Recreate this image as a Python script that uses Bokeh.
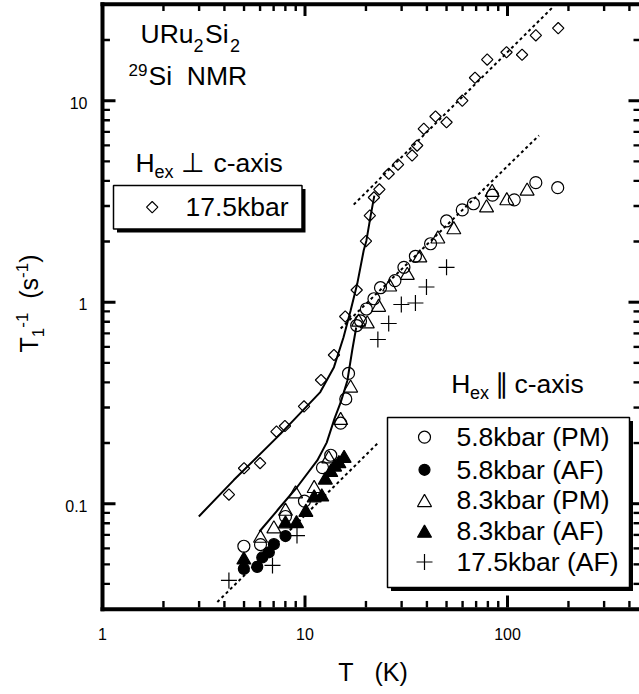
import numpy as np
from bokeh.plotting import figure
from bokeh.models import Range1d
from bokeh.core.properties import value
from bokeh.embed import file_html
from bokeh.resources import INLINE

# ---------------- data ----------------
# H_ex perpendicular c-axis, 17.5 kbar (open diamonds)
perp175_T = [4.21, 5.00, 6.00, 7.23, 7.96, 9.89, 12.0, 13.9, 15.8, 18.0, 20.0, 20.9, 21.9, 23.3,
             25.9, 28.8, 33.8, 35.8, 38.6, 44.1, 50.0, 59.8, 69.1, 79.4, 98.9, 118, 138, 178]
perp175_R = [0.111, 0.150, 0.159, 0.228, 0.243, 0.304, 0.411, 0.547, 0.849, 1.15, 2.01, 2.69, 3.31, 3.63,
             4.34, 4.82, 5.35, 5.99, 7.25, 8.35, 7.82, 10.0, 13.0, 16.0, 17.4, 16.9, 21.1, 22.9]
# H_ex parallel c-axis
pm58_T = [4.99, 6.03, 8.01, 9.94, 12.2, 13.4, 15.0, 15.9, 16.4, 18.0, 18.8, 20.1, 21.9, 23.6,
          27.8, 30.8, 35.1, 41.7, 50.0, 59.8, 67.9, 84.3, 108, 138, 177]
pm58_R = [0.0615, 0.0627, 0.0864, 0.103, 0.151, 0.174, 0.251, 0.331, 0.443, 0.766, 0.807, 0.925, 1.04, 1.18,
          1.28, 1.49, 1.69, 1.95, 2.53, 2.87, 3.08, 3.40, 3.22, 3.92, 3.70]
af58_T = [4.99, 5.81, 6.15, 6.63, 7.02, 8.01]
af58_R = [0.0475, 0.0486, 0.0541, 0.0574, 0.0630, 0.0691]
pm83_T = [6.03, 7.02, 8.01, 8.98, 11.1, 13.1, 15.0, 16.8, 18.4, 20.3, 23.1, 26.2, 32.0, 36.9,
          45.3, 54.3, 78.8, 84.0, 99.2, 125]
pm83_R = [0.0674, 0.0750, 0.0918, 0.112, 0.119, 0.167, 0.259, 0.375, 0.796, 0.781, 0.944, 1.19, 1.36, 1.66,
          2.06, 2.29, 2.94, 3.51, 3.19, 3.56]
af83_T = [4.99, 8.01, 9.08, 10.1, 11.1, 12.1, 12.6, 13.4, 14.0, 14.7, 15.6]
af83_R = [0.0526, 0.0795, 0.0797, 0.0907, 0.107, 0.108, 0.131, 0.143, 0.152, 0.158, 0.168]
af175_T = [4.21, 6.91, 9.13, 22.9, 25.9, 29.9, 35.1, 39.8, 50.0]
af175_R = [0.0416, 0.0494, 0.0695, 0.653, 0.784, 0.974, 0.991, 1.19, 1.49]

# guide curves (solid) and T-linear lines (dotted)
fit_perp_T = [2.99, 4.45, 7.57, 11.9, 13.9, 15.5, 16.8, 18.1, 19.5, 20.1, 21.1, 22.0]
fit_perp_R = [0.0864, 0.131, 0.222, 0.358, 0.476, 0.670, 0.909, 1.23, 1.81, 2.02, 2.69, 3.38]
fit_par_T = [5.96, 7.29, 9.15, 11.5, 12.8, 14.0, 15.0, 16.2, 17.1, 17.9]
fit_par_R = [0.0728, 0.0925, 0.121, 0.164, 0.201, 0.265, 0.318, 0.409, 0.576, 0.749]
dot_perp_T = [17.4, 169.0]
dot_perp_R = [3.05, 29.4]
dot_pm_T = [15.0, 143.0]
dot_pm_R = [0.740, 6.72]
dot_af_T = [3.69, 22.8]
dot_af_R = [0.0325, 0.199]

x_major = [1, 10, 100]
x_major_labels = ["1", "10", "100"]
x_minor = [2, 3, 4, 5, 6, 7, 8, 9, 20, 30, 40, 50, 60, 70, 80, 90, 200, 300, 400]
y_major = [0.1, 1, 10]
y_major_labels = ["0.1", "1", "10"]
y_minor = [0.04, 0.05, 0.06, 0.07, 0.08, 0.09, 0.2, 0.3, 0.4, 0.5, 0.6, 0.7, 0.8, 0.9,
           2, 3, 4, 5, 6, 7, 8, 9, 20]

legend_par_labels = ["5.8kbar (PM)", "5.8kbar (AF)", "8.3kbar (PM)", "8.3kbar (AF)", "17.5kbar (AF)"]

# ---------------- layout (page pixels; the plot frame covers the whole canvas) ----------------
X_LEFT, X_DEC = 102.0, 202.5
Y_ONE, Y_DEC = 301.7, 201.5


def px2x(px):
    return 10 ** ((px - X_LEFT) / X_DEC)


def py2y(py):
    return 10 ** ((Y_ONE - py) / Y_DEC)


def x2px(x):
    return X_LEFT + X_DEC * np.log10(x)


def y2py(y):
    return Y_ONE - Y_DEC * np.log10(y)


W, H = 639, 694
FTOP, FBOT, FLEFT, FRIGHT = 1.7, 610.7, 100.0, float(W)

p = figure(width=W, height=H, x_axis_type="log", y_axis_type="log",
           x_range=Range1d(px2x(0), px2x(W)), y_range=Range1d(py2y(H), py2y(0)),
           x_axis_location=None, y_axis_location=None,
           output_backend="svg", toolbar_location=None, title=None,
           min_border=0, min_border_left=0, min_border_right=0, min_border_top=0, min_border_bottom=0)
p.outline_line_color = None
p.xgrid.visible = False
p.ygrid.visible = False

FONT = "Liberation Sans"

# ---- ticks first (screen-sized rects at tick values) ----
nxm, nym = len(x_minor), len(y_minor)
p.rect(x=x_major, y=[py2y(601.0)] * 3, width=3, height=12, width_units="screen", height_units="screen",
       fill_color="black", line_color=None)
p.rect(x=x_minor, y=[py2y(603.7)] * nxm, width=2.4, height=6.5, width_units="screen",
       height_units="screen", fill_color="black", line_color=None)
p.rect(x=x_major, y=[py2y(10.2)] * 3, width=3, height=10.5, width_units="screen", height_units="screen",
       fill_color="black", line_color=None)
p.rect(x=x_minor, y=[py2y(7.7)] * nxm, width=2.4, height=5.5, width_units="screen",
       height_units="screen", fill_color="black", line_color=None)
p.rect(x=[px2x(109.0)] * 3, y=y_major, width=12, height=3, width_units="screen", height_units="screen",
       fill_color="black", line_color=None)
p.rect(x=[px2x(106.2)] * nym, y=y_minor, width=6.5, height=2.4, width_units="screen",
       height_units="screen", fill_color="black", line_color=None)
p.rect(x=[px2x(633.5)] * 3, y=y_major, width=11, height=3, width_units="screen", height_units="screen",
       fill_color="black", line_color=None)
p.rect(x=[px2x(636.0)] * nym, y=y_minor, width=6, height=2.4, width_units="screen",
       height_units="screen", fill_color="black", line_color=None)

# frame lines (left, bottom, top)
p.segment(x0=[px2x(102.0), px2x(FLEFT), px2x(FLEFT)], y0=[py2y(FTOP), py2y(608.7), py2y(3.7)],
          x1=[px2x(102.0), px2x(FRIGHT), px2x(FRIGHT)], y1=[py2y(FBOT), py2y(608.7), py2y(3.7)],
          line_color="black", line_width=4)

# lines
p.line(fit_perp_T, fit_perp_R, line_color="black", line_width=2)
p.line(fit_par_T, fit_par_R, line_color="black", line_width=2)
for xs, ys in ((dot_perp_T, dot_perp_R), (dot_pm_T, dot_pm_R), (dot_af_T, dot_af_R)):
    p.line(xs, ys, line_color="black", line_width=2, line_dash="3 3")

# markers
LW = 1.2
p.scatter(perp175_T, perp175_R, marker="square", angle=np.pi / 4, size=8,
          fill_color=None, line_color="black", line_width=LW)
p.scatter(pm58_T, pm58_R, marker="circle", size=12, fill_color=None, line_color="black", line_width=LW)
p.scatter(af58_T, af58_R, marker="circle", size=11, fill_color="black", line_color="black", line_width=LW)
p.scatter(pm83_T, pm83_R, marker="triangle", size=14, fill_color=None, line_color="black", line_width=LW)
p.scatter(af83_T, af83_R, marker="triangle", size=14, fill_color="black", line_color="black", line_width=LW)
p.scatter(af175_T, af175_R, marker="cross", size=16, line_color="black", line_width=LW)


# legend boxes with drop shadow
def box(l, t, r, b, sh=3.5):
    p.quad(left=[px2x(l + sh)], right=[px2x(r + sh)], top=[py2y(t + sh)], bottom=[py2y(b + sh)],
           fill_color="black", line_color=None)
    p.quad(left=[px2x(l)], right=[px2x(r)], top=[py2y(t)], bottom=[py2y(b)],
           fill_color="white", line_color="black", line_width=1.5)


box(113, 185, 301.5, 228.5)
box(387, 417, 629, 587)

p.scatter([px2x(151.7)], [py2y(206.7)], marker="square", angle=np.pi / 4, size=8,
          fill_color=None, line_color="black", line_width=LW)
row_y = [436.7, 469.3, 500.0, 530.7, 561.5]
leg_styles = [("circle", 12, None), ("circle", 11, "black"), ("triangle", 14, None),
              ("triangle", 14, "black"), ("cross", 16, None)]
for yy, (mk, sz, fc) in zip(row_y, leg_styles):
    p.scatter([px2x(424)], [py2y(yy + (2 if mk == "triangle" else 0))], marker=mk, size=sz,
              fill_color=fc, line_color="black", line_width=LW)


# ---- texts as text glyphs (page pixel baselines, small empirical box correction) ----
def txt(items, size, align="left"):
    xs = [px2x(a) for a, b, s in items]
    ys = [py2y(b - 0.35 * size) for a, b, s in items]
    ss = [s for a, b, s in items]
    p.text(x=xs, y=ys, text=ss, text_font=value(FONT), text_font_size=value(f"{size}px"),
           text_color="black", text_align=value(align), text_baseline=value("alphabetic"))


def vtxt(items, size):
    # rotated 90 deg: (baseline x, start y, text); text reads upward
    xs = [px2x(a - 0.35 * size) for a, b, s in items]
    ys = [py2y(b) for a, b, s in items]
    ss = [s for a, b, s in items]
    p.text(x=xs, y=ys, text=ss, angle=np.pi / 2, text_font=value(FONT),
           text_font_size=value(f"{size}px"), text_color="black",
           text_align=value("left"), text_baseline=value("alphabetic"))


BIG, SMALL = 26.5, 18
txt([(140, 43, "URu"), (204.5, 43, "Si"), (148, 85, "Si\u00a0 NMR"),
     (135, 172, "H"), (180, 172, "\u22a5"), (213, 172, "c-axis"), (185, 215.5, "17.5kbar"),
     (450.7, 393, "H"), (494, 393, "\u2225"), (514, 393, "c-axis")]
    + [(456, yy + 9, lab) for yy, lab in zip(row_y, legend_par_labels)], BIG)
txt([(193, 51, "2"), (229.5, 51, "2"), (154, 178, "ex"), (469.5, 399, "ex")], SMALL)
txt([(128, 75, "29")], 17)

# tick labels
txt([(x2px(v), 639.0, s) for v, s in zip(x_major, x_major_labels)], 16, align="center")
txt([(87.0, y2py(v) + 7.7, s) for v, s in zip(y_major, y_major_labels)], 16, align="right")

# axis titles
txt([(372.5, 680.0, "T\u00a0\u00a0 (K)")], 25, align="center")
vtxt([(37.0, 352.0, "T"), (37.0, 312.1, "\u00a0 (s"), (37.0, 262.3, ")")], 25)
vtxt([(43.0, 336.7, "1")], 17)
vtxt([(27.0, 327.2, "-1"), (27.0, 277.4, "-1")], 17)

open("out.html", "w").write(file_html(p, INLINE))
